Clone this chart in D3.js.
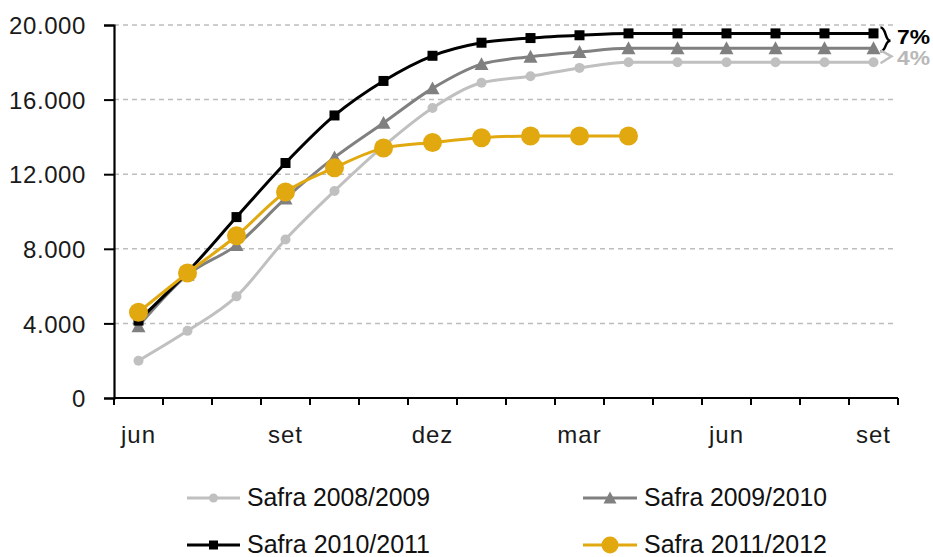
<!DOCTYPE html>
<html>
<head>
<meta charset="utf-8">
<script src="https://cdn.jsdelivr.net/npm/d3@7"></script>
<style>
  html, body { margin: 0; padding: 0; background: #fff; }
  svg { display: block; }
</style>
</head>
<body>
<svg id="chart" width="933" height="557"></svg>
<script>
const months = ["jun","jul","ago","set","out","nov","dez","jan","fev","mar","abr","mai","jun","jul","ago","set"];
const labeledMonths = [0, 3, 6, 9, 12, 15];
const yTicks = [0, 4000, 8000, 12000, 16000, 20000];

const safra0809 = [2000, 3600, 5450, 8500, 11100, 13500, 15550, 16900, 17250, 17700, 18000, 18000, 18000, 18000, 18000, 18000];
const safra0910 = [3850, 6600, 8200, 10700, 12900, 14750, 16600, 17900, 18300, 18550, 18750, 18750, 18750, 18750, 18750, 18750];
const safra1011 = [4150, 6750, 9700, 12600, 15150, 17000, 18350, 19050, 19300, 19450, 19550, 19550, 19550, 19550, 19550, 19550];
const safra1112 = [4600, 6700, 8700, 11050, 12350, 13400, 13700, 13950, 14050, 14050, 14050];

const seriesNames = ["Safra 2008/2009", "Safra 2009/2010", "Safra 2010/2011", "Safra 2011/2012"];
const annotations = ["7%", "4%"];

const series = [
  { name: seriesNames[0], values: safra0809, color: "#c0c0c0", marker: "circle", size: 5 },
  { name: seriesNames[1], values: safra0910, color: "#808080", marker: "triangle", size: 7 },
  { name: seriesNames[2], values: safra1011, color: "#000000", marker: "square", size: 5 },
  { name: seriesNames[3], values: safra1112, color: "#e1a90f", marker: "circle", size: 9.5 }
];

const svg = d3.select("#chart");
const font = "'Liberation Sans', Arial, sans-serif";

const x = d3.scaleBand().domain(d3.range(months.length)).range([114, 898]);
const y = d3.scaleLinear().domain([0, 20000]).range([398, 25]);

const loc = d3.formatLocale({ decimal: ",", thousands: ".", grouping: [3], currency: ["", ""] });
const fmt = loc.format(",.0f");

// gridlines
svg.append("g").selectAll("line")
  .data(yTicks.filter(d => d > 0))
  .join("line")
  .attr("x1", 114).attr("x2", 897)
  .attr("y1", d => y(d)).attr("y2", d => y(d))
  .attr("stroke", "#bdbdbd").attr("stroke-width", 1.5)
  .attr("stroke-dasharray", "5,4");

// y axis
const yAxis = svg.append("g").attr("transform", "translate(114,0)")
  .call(d3.axisLeft(y).tickValues(yTicks).tickFormat(fmt).tickSize(10).tickPadding(18));
yAxis.select(".domain").attr("stroke", "#000").attr("stroke-width", 2.2);
yAxis.selectAll(".tick line").attr("stroke", "#000").attr("stroke-width", 2);
yAxis.selectAll(".tick text")
  .attr("font-family", font).attr("font-size", 24).attr("fill", "#1a1a1a")
  .attr("letter-spacing", 0.6).attr("dy", "0.36em");

// x axis
const xAxis = svg.append("g").attr("transform", "translate(0,398)");
xAxis.append("line").attr("x1", 114).attr("x2", 898).attr("y1", 0).attr("y2", 0)
  .attr("stroke", "#000").attr("stroke-width", 2.2);
const boundaries = d3.range(months.length + 1).map(i => i < months.length ? x(i) : x(months.length - 1) + x.bandwidth());
xAxis.selectAll("line.tk").data(boundaries).join("line").attr("class", "tk")
  .attr("x1", d => d).attr("x2", d => d).attr("y1", 0).attr("y2", 7)
  .attr("stroke", "#000").attr("stroke-width", 2);
xAxis.selectAll("text").data(labeledMonths).join("text")
  .attr("x", i => x(i) + x.bandwidth() / 2)
  .attr("y", 45)
  .attr("text-anchor", "middle")
  .attr("font-family", font).attr("font-size", 24).attr("fill", "#1a1a1a")
  .attr("letter-spacing", 1)
  .text(i => months[i]);

// lines
const line = d3.line()
  .x((d, i) => x(i) + x.bandwidth() / 2)
  .y(d => y(d))
  .curve(d3.curveMonotoneX);

function drawMarker(g, type, cx, cy, size, color) {
  if (type === "circle") {
    g.append("circle").attr("cx", cx).attr("cy", cy).attr("r", size).attr("fill", color);
  } else if (type === "square") {
    g.append("rect").attr("x", cx - size).attr("y", cy - size).attr("width", size * 2).attr("height", size * 2).attr("fill", color);
  } else if (type === "triangle") {
    g.append("path").attr("d", `M${cx},${cy - size}L${cx + size},${cy + size * 0.85}L${cx - size},${cy + size * 0.85}Z`).attr("fill", color);
  }
}

series.forEach(s => {
  const g = svg.append("g");
  g.append("path").datum(s.values).attr("d", line)
    .attr("fill", "none").attr("stroke", s.color).attr("stroke-width", 3);
  s.values.forEach((v, i) => drawMarker(g, s.marker, x(i) + x.bandwidth() / 2, y(v), s.size, s.color));
});

// annotations: brackets and percentages
const lastX = x(months.length - 1) + x.bandwidth() / 2;
const yBlack = y(safra1011[15]), yDark = y(safra0910[15]), yLight = y(safra0809[15]);
const bx = lastX + 7;
const midA = (yBlack + yDark) / 2;
svg.append("path")
  .attr("d", `M${bx},${yBlack - 6} C${bx + 6},${yBlack - 6} ${bx + 4},${midA} ${bx + 10},${midA} C${bx + 4},${midA} ${bx + 6},${yDark + 3} ${bx},${yDark + 3}`)
  .attr("fill", "none").attr("stroke", "#000").attr("stroke-width", 2.5);
const midB = (yDark + yLight) / 2 + 1;
svg.append("path")
  .attr("d", `M${bx},${yDark + 2} L${bx + 11},${midB} L${bx},${yLight + 1}`)
  .attr("fill", "none").attr("stroke", "#c0c0c0").attr("stroke-width", 2.5);

svg.append("text").attr("x", 897).attr("y", 44)
  .attr("font-family", font).attr("font-size", 20).attr("font-weight", "bold").attr("fill", "#000")
  .attr("textLength", 33).attr("lengthAdjust", "spacingAndGlyphs")
  .text(annotations[0]);
svg.append("text").attr("x", 897).attr("y", 65)
  .attr("font-family", font).attr("font-size", 20).attr("font-weight", "bold").attr("fill", "#b8b8b8")
  .attr("textLength", 33).attr("lengthAdjust", "spacingAndGlyphs")
  .text(annotations[1]);

// legend
const legendPos = [
  { lx: 187, ty: 498 },
  { lx: 583, ty: 498 },
  { lx: 187, ty: 545 },
  { lx: 583, ty: 545 }
];
const legendSizes = [4.5, 6.5, 4.5, 8.5];
series.forEach((s, i) => {
  const p = legendPos[i];
  const g = svg.append("g");
  const len = i % 2 === 0 ? 53 : 54;
  g.append("line").attr("x1", p.lx).attr("x2", p.lx + len).attr("y1", p.ty).attr("y2", p.ty)
    .attr("stroke", s.color).attr("stroke-width", 3);
  drawMarker(g, s.marker, p.lx + len / 2, p.ty, legendSizes[i], s.color);
  g.append("text").attr("x", p.lx + len + 7).attr("y", p.ty + 8)
    .attr("font-family", font).attr("font-size", 25).attr("fill", "#111")
    .attr("textLength", 183).attr("lengthAdjust", "spacingAndGlyphs")
    .text(s.name);
});
</script>
</body>
</html>
